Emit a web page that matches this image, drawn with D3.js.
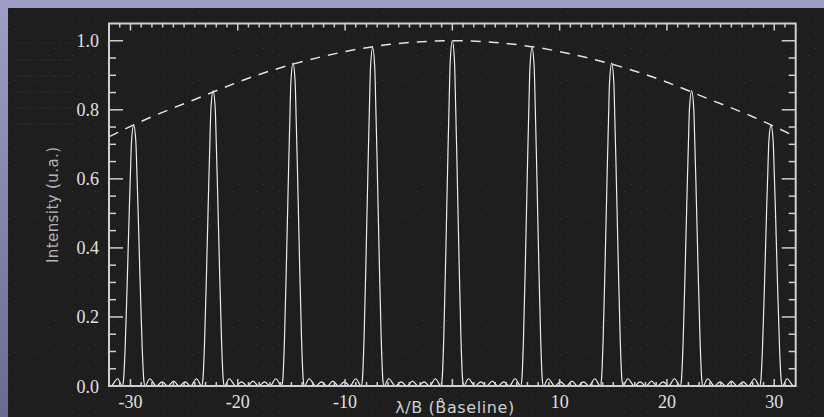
<!DOCTYPE html>
<html>
<head>
<meta charset="utf-8">
<script src="https://cdn.jsdelivr.net/npm/d3@7/dist/d3.min.js"></script>
<style>
  html, body { margin: 0; padding: 0; background: #1e1e1e; }
  svg { display: block; }
  .num { font-family: 'Liberation Serif', 'DejaVu Serif', serif; font-size: 18px; fill: #e0e0e0; }
</style>
</head>
<body>
<svg id="vis" width="824" height="417"></svg>
<script>
// fringe peaks (x in lambda/B, y in u.a.)
const peakCenters = [-29.7, -22.3, -14.85, -7.43, 0, 7.43, 14.85, 22.3, 29.7];
const peakHeights = [0.755, 0.855, 0.935, 0.98, 1.0, 0.98, 0.935, 0.855, 0.755];

// one peak's half profile: distance from centre -> fraction of the peak height
const peakOffsets = [0, 0.2, 0.3, 0.4, 0.6, 0.8, 0.95, 1.06];
const peakFractions = [1, 0.94, 0.82, 0.69, 0.40, 0.14, 0.02, 0];

// small side lobes right of a peak (distance from centre, value)
const lobeOffsets = [1.5, 2.12, 2.65, 3.18, 3.72, 4.25, 4.8, 5.31, 5.85];
const lobeValues = [0.021, 0, 0.012, 0, 0.014, 0, 0.012, 0, 0.021];

// dashed envelope
const envX = [-32, -28, -24, -20, -16, -12, -8, -4, 0, 4, 8, 12, 16, 20, 24, 28, 32];
const envY = [0.722, 0.78, 0.83, 0.88, 0.922, 0.955, 0.98, 0.995, 1.0,
              0.995, 0.98, 0.955, 0.922, 0.88, 0.83, 0.78, 0.722];

// axes
const xTicks = [-30, -20, -10, 0, 10, 20, 30];
const xTickLabels = ['-30', '-20', '-10', '', '10', '20', '30'];
const yTicks = [0, 0.2, 0.4, 0.6, 0.8, 1.0];
const yTickLabels = ['0.0', '0.2', '0.4', '0.6', '0.8', '1.0'];
const xTitle = 'λ/B (B\u030Aaseline)';
const yTitle = 'Intensity (u.a.)';

let svg = d3.select('#vis');
let defs = svg.append('defs');

let width = 824;
let height = 417;
let plot = { left: 109, top: 23.5, right: 795.7, bottom: 386 };

let axisColor = '#cfcfcf';
let lineColor = '#ececec';

/*
  Background
*/
let side = defs.append('linearGradient')
  .attr('id', 'side-grad')
  .attr('x1', 0).attr('y1', 0).attr('x2', 0).attr('y2', 1);
side.append('stop').attr('offset', '0%').attr('stop-color', '#9d9dc5');
side.append('stop').attr('offset', '100%').attr('stop-color', '#6a6a92');

let dots = defs.append('pattern')
  .attr('id', 'dots')
  .attr('patternUnits', 'userSpaceOnUse')
  .attr('width', 23).attr('height', 17);
dots.append('rect').attr('x', 3).attr('y', 4).attr('width', 1).attr('height', 1).attr('fill', '#3a3a3a');
dots.append('rect').attr('x', 15).attr('y', 12).attr('width', 1).attr('height', 1).attr('fill', '#343434');
dots.append('rect').attr('x', 9).attr('y', 14).attr('width', 1).attr('height', 1).attr('fill', '#2f2f2f');

svg.append('rect').attr('width', width).attr('height', height).attr('fill', '#9d9dc5');
svg.append('rect').attr('x', 0).attr('y', 8).attr('width', 8).attr('height', height - 8).attr('fill', 'url(#side-grad)');
svg.append('rect').attr('x', 8).attr('y', 8).attr('width', width - 8).attr('height', height - 8).attr('fill', '#1e1e1e');
svg.append('rect').attr('x', 8).attr('y', 8).attr('width', width - 8).attr('height', height - 8).attr('fill', 'url(#dots)');

// faint dotted streaks of the slide template
let streakY = [43, 60, 76, 92, 108, 124];
svg.append('g').selectAll('line')
  .data(streakY)
  .enter().append('line')
  .attr('x1', 16).attr('x2', 72)
  .attr('y1', (d) => d).attr('y2', (d) => d)
  .attr('stroke', '#363636')
  .attr('stroke-dasharray', '1,2');

/*
  Scales
*/
let x = d3.scaleLinear().domain([-32, 32]).range([plot.left, plot.right]);
let y = d3.scaleLinear().domain([0, 1.05]).range([plot.bottom, plot.top]);

/*
  Trace: peaks + side lobes
*/
let trace = [];
peakCenters.forEach((c, i) => {
  let h = peakHeights[i];
  peakOffsets.forEach((o, k) => {
    trace.push({ x: c - o, y: h * peakFractions[k] });
    if (o > 0) trace.push({ x: c + o, y: h * peakFractions[k] });
  });
  lobeOffsets.forEach((o, k) => {
    trace.push({ x: c + o, y: lobeValues[k] });
  });
  if (i === 0) {
    lobeOffsets.forEach((o, k) => {
      trace.push({ x: c - o, y: lobeValues[k] });
    });
  }
});
trace.sort((a, b) => a.x - b.x);

defs.append('clipPath').attr('id', 'plot-clip')
  .append('rect')
  .attr('x', plot.left).attr('y', plot.top - 2)
  .attr('width', plot.right - plot.left)
  .attr('height', plot.bottom - plot.top + 2);

let line = d3.line()
  .x((d) => x(d.x))
  .y((d) => y(d.y))
  .curve(d3.curveMonotoneX);

let marks = svg.append('g').attr('clip-path', 'url(#plot-clip)');

marks.append('path')
  .datum(trace)
  .attr('fill', 'none')
  .attr('stroke', lineColor)
  .attr('stroke-width', 1.2)
  .attr('d', line);

let env = envX.map((v, i) => ({ x: v, y: envY[i] }));
marks.append('path')
  .datum(env)
  .attr('fill', 'none')
  .attr('stroke', '#e2e2e2')
  .attr('stroke-width', 1.5)
  .attr('stroke-dasharray', '10,8')
  .attr('d', d3.line().x((d) => x(d.x)).y((d) => y(d.y)).curve(d3.curveNatural));

/*
  Axes (IDL style box, ticks inside)
*/
let axes = svg.append('g');

axes.append('rect')
  .attr('x', plot.left).attr('y', plot.top)
  .attr('width', plot.right - plot.left)
  .attr('height', plot.bottom - plot.top)
  .attr('fill', 'none')
  .attr('stroke', axisColor)
  .attr('stroke-width', 2);

let xMinor = d3.range(-31, 32, 1);
let yMinor = d3.range(0.05, 1.05, 0.05);

let tickLines = [];
xMinor.forEach((v) => {
  let len = (v % 10 === 0) ? 7 : 4;
  tickLines.push({ x1: x(v), y1: plot.bottom, x2: x(v), y2: plot.bottom - len });
  tickLines.push({ x1: x(v), y1: plot.top, x2: x(v), y2: plot.top + len });
});
yMinor.forEach((v) => {
  let major = Math.abs(v * 5 - Math.round(v * 5)) < 1e-6;
  let len = major ? 14 : 7;
  tickLines.push({ x1: plot.left, y1: y(v), x2: plot.left + len, y2: y(v) });
  tickLines.push({ x1: plot.right, y1: y(v), x2: plot.right - len, y2: y(v) });
});

axes.selectAll('.tick')
  .data(tickLines)
  .enter().append('line')
  .attr('x1', (d) => d.x1).attr('y1', (d) => d.y1)
  .attr('x2', (d) => d.x2).attr('y2', (d) => d.y2)
  .attr('stroke', axisColor)
  .attr('stroke-width', 1.5);

axes.selectAll('.xlab')
  .data(xTicks)
  .enter().append('text')
  .attr('class', 'num')
  .attr('x', (d) => x(d))
  .attr('y', 408)
  .attr('text-anchor', 'middle')
  .text((d, i) => xTickLabels[i]);

axes.selectAll('.ylab')
  .data(yTicks)
  .enter().append('text')
  .attr('class', 'num')
  .attr('x', 99)
  .attr('y', (d) => y(d) + 6.5)
  .attr('text-anchor', 'end')
  .text((d, i) => yTickLabels[i]);

svg.append('text')
  .attr('x', 455)
  .attr('y', 413)
  .attr('text-anchor', 'middle')
  .attr('font-family', 'DejaVu Sans, sans-serif')
  .attr('font-size', 16)
  .attr('letter-spacing', 0.6)
  .attr('fill', '#cfcfcf')
  .text(xTitle);

svg.append('text')
  .attr('transform', `translate(58, ${(plot.top + plot.bottom) / 2}) rotate(-90)`)
  .attr('text-anchor', 'middle')
  .attr('font-family', 'DejaVu Sans, sans-serif')
  .attr('font-size', 15)
  .attr('letter-spacing', 0.4)
  .attr('fill', '#b4b4b4')
  .text(yTitle);
</script>
</body>
</html>
